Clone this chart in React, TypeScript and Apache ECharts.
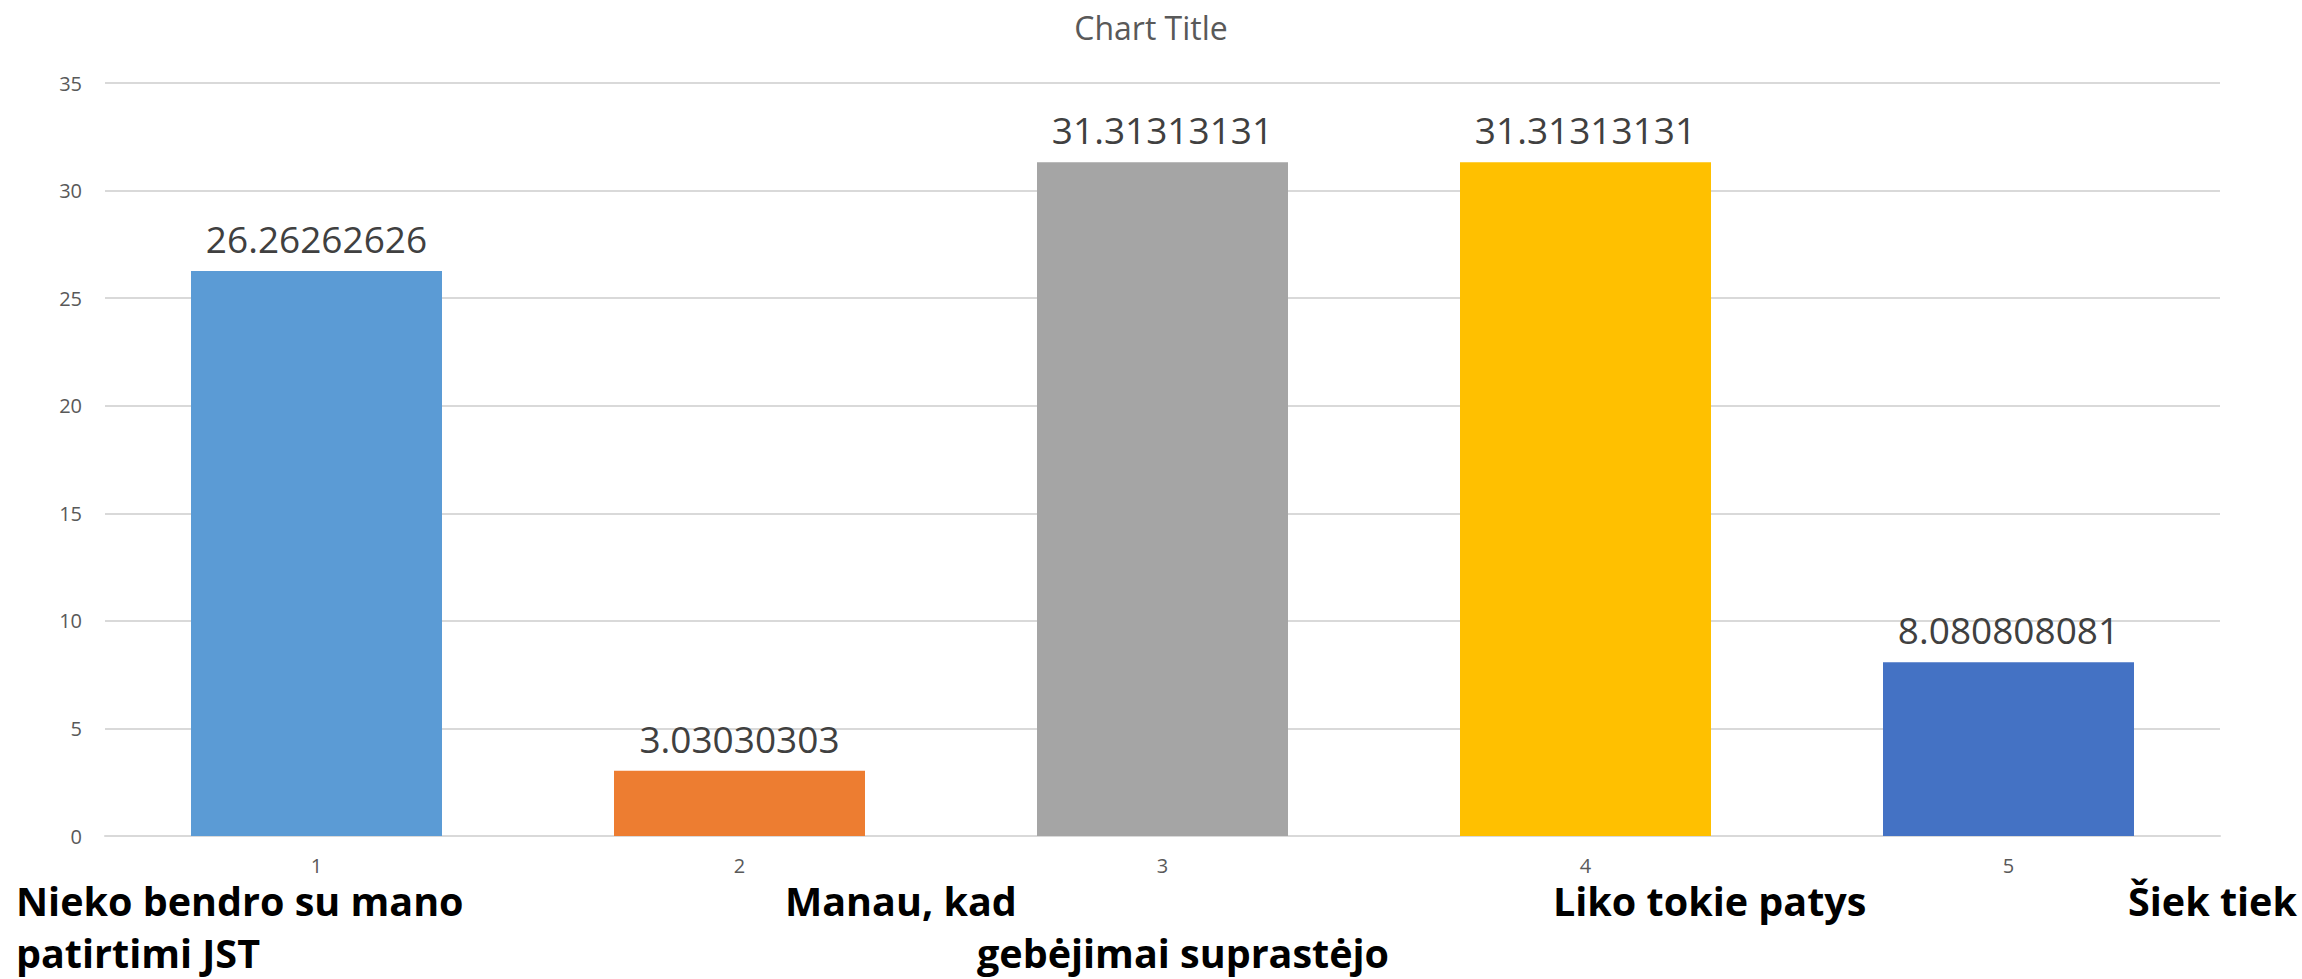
import React, { useEffect, useRef } from "react";
import * as echarts from "echarts";

const categories = ["1", "2", "3", "4", "5"];
const values = [26.26262626, 3.03030303, 31.31313131, 31.31313131, 8.080808081];
const barColors = ["#5B9BD5", "#ED7D31", "#A5A5A5", "#FFC000", "#4472C4"];
const yTicks = { min: 0, max: 35, interval: 5 };
const titleText = "Chart Title";
// Overlay captions (text boxes under the axis)
const captionTexts = [
  "Nieko bendro su mano",
  "patirtimi JST",
  "Manau, kad",
  "gebėjimai suprastėjo",
  "Liko tokie patys",
  "Šiek tiek",
];
const captionPositions = [
  [16, 901],
  [16, 953],
  [785, 901],
  [977, 953],
  [1553, 901],
  [2128, 901],
];

export default function App() {
  const ref = useRef<HTMLDivElement>(null);
  useEffect(() => {
    if (!ref.current) return;
    const chart = echarts.init(ref.current, undefined, { renderer: "svg" });
    chart.setOption({
      animation: false,
      backgroundColor: "#ffffff",
      title: {
        text: titleText,
        left: "center",
        top: 6,
        textStyle: {
          fontFamily: "Open Sans",
          fontSize: 32,
          fontWeight: "normal",
          color: "#595959",
        },
      },
      grid: { left: 105, right: 82, top: 83, bottom: 143, containLabel: false },
      xAxis: {
        type: "category",
        data: categories,
        axisLine: { show: true, lineStyle: { color: "#D9D9D9", width: 2 } },
        axisTick: { show: false },
        axisLabel: {
          margin: 19,
          fontFamily: "Open Sans",
          fontSize: 20,
          lineHeight: 20,
          color: "#595959",
        },
      },
      yAxis: {
        type: "value",
        min: yTicks.min,
        max: yTicks.max,
        interval: yTicks.interval,
        axisLine: { show: false },
        axisTick: { show: false },
        splitLine: { lineStyle: { color: "#D9D9D9", width: 2 } },
        axisLabel: {
          margin: 23,
          fontFamily: "Open Sans",
          fontSize: 20,
          color: "#595959",
        },
      },
      series: [
        {
          type: "bar",
          barWidth: 251,
          data: values.map((v, i) => ({
            value: v,
            itemStyle: { color: barColors[i] },
          })),
          label: {
            show: true,
            position: "top",
            distance: 14,
            fontFamily: "Open Sans",
            fontSize: 37,
            color: "#404040",
          },
        },
      ],
      graphic: captionTexts.map((t, i) => ({
        type: "text",
        x: captionPositions[i][0],
        y: captionPositions[i][1],
        style: {
          text: t,
          font: "bold 39.5px 'Open Sans'",
          lineHeight: 40,
          fill: "#000000",
          textAlign: "left",
          textVerticalAlign: "middle",
        },
      })),
    });
    return () => chart.dispose();
  }, []);
  return (
    <div
      ref={ref}
      style={{ position: "fixed", left: 0, top: 0, width: 2302, height: 979 }}
    />
  );
}
